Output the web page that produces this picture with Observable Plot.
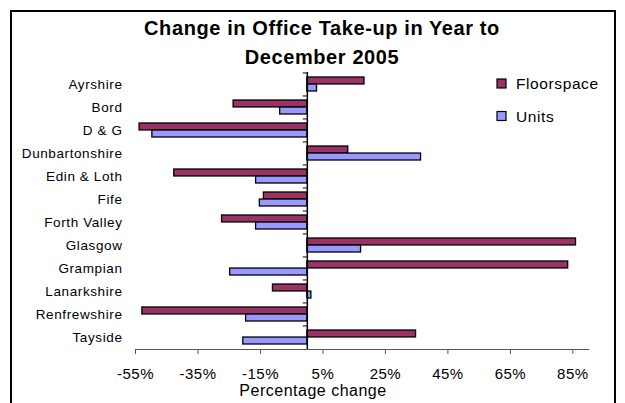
<!DOCTYPE html>
<html>
<head>
<meta charset="utf-8">
<script src="https://cdn.jsdelivr.net/npm/d3@7"></script>
<script src="https://cdn.jsdelivr.net/npm/@observablehq/plot@0.6"></script>
<style>
  html, body { margin: 0; padding: 0; background: #fff; overflow: hidden; }
  #wrap { position: relative; width: 625px; height: 403px; }
  #border { position: absolute; left: 10px; top: 10px; width: 602px; height: 400px; border: 2px solid #000; pointer-events: none; }
  svg { font-family: "Liberation Sans", Arial, sans-serif; }
</style>
</head>
<body>
<div id="wrap"><div id="border"></div></div>
<script>
const regions = ["Ayrshire","Bord","D & G","Dunbartonshire","Edin & Loth","Fife","Forth Valley","Glasgow","Grampian","Lanarkshire","Renfrewshire","Tayside"];
const floorspace = [18.3, -23.6, -53.7, 13.1, -42.6, -13.9, -27.3, 86.0, 83.5, -11.0, -52.8, 34.8];
const units = [3.1, -8.7, -49.6, 36.4, -16.4, -15.2, -16.4, 17.2, -24.7, 1.3, -19.6, -20.5];
const xTicks = [-55, -35, -15, 5, 25, 45, 65, 85];
const series = ["Floorspace", "Units"];
const colors = ["#993366", "#9999FF"];
const titleLines = ["Change in Office Take-up in Year to", "December 2005"];
const xLabel = "Percentage change";

const W = 625, H = 403, mT = 72, mB = 54, mL = 135, mR = 37;
const step = (H - mT - mB) / regions.length;
const pIn = 0.39;
const bw = step * (1 - pIn);

const fData = regions.map((r, i) => ({region: r, value: floorspace[i]}));
const uData = regions.map((r, i) => ({region: r, value: units[i]}));

const chart = Plot.plot({
  width: W, height: H,
  marginTop: mT, marginBottom: mB, marginLeft: mL, marginRight: mR,
  style: {fontFamily: '"Liberation Sans", Arial, sans-serif', background: "transparent", overflow: "visible"},
  x: {domain: [-55, 90]},
  y: {domain: regions, paddingInner: pIn, paddingOuter: pIn / 2},
  marks: [
    Plot.barX(fData, {x: "value", y: "region", insetBottom: bw / 2, fill: colors[0], stroke: "#000", strokeWidth: 1.3}),
    Plot.barX(uData, {x: "value", y: "region", insetTop: bw / 2, fill: colors[1], stroke: "#000", strokeWidth: 1.3}),
    Plot.ruleX([0], {stroke: "#000", strokeWidth: 1.5}),
    Plot.ruleY(regions, {y: d => d, x1: -1.3, x2: 0, dy: -step / 2, stroke: "#000", strokeWidth: 1}),
    Plot.frame({anchor: "bottom", stroke: "#555", strokeWidth: 1.2}),
    Plot.axisX({ticks: xTicks, tickFormat: d => d + "%", tickSize: 5, tickPadding: 14, fontSize: 15, label: null, stroke: "#555", color: "#000"}),
    Plot.axisY({tickSize: 0, tickPadding: 13, fontSize: 13.5, label: null, color: "#000"}),
    Plot.text([xLabel], {text: d => d, frameAnchor: "bottom", dx: -49, dy: 41, fontSize: 16, lineAnchor: "middle", fill: "#000"})
  ]
});

document.getElementById("wrap").appendChild(chart);
const svg = d3.select(chart);
svg.selectAll("g[aria-label='x-axis tick label']").style("letter-spacing", "0.5px");
svg.selectAll("g[aria-label='y-axis tick label']").style("letter-spacing", "0.6px");
svg.selectAll("g[aria-label='text']").style("letter-spacing", "0.5px");

// Title
svg.append("g").attr("text-anchor", "middle").selectAll("text").data(titleLines).join("text")
  .attr("x", 322).attr("y", (d, i) => [34.5, 63.5][i])
  .style("font-size", "20px").style("font-weight", "bold").style("letter-spacing", "0.6px")
  .attr("fill", "#000").text(d => d);

// Legend
const lg = svg.append("g").attr("text-anchor", "start");
const lgY = [79, 111.5];
series.forEach((s, i) => {
  lg.append("rect").attr("x", 497).attr("y", lgY[i]).attr("width", 9).attr("height", 9)
    .attr("fill", colors[i]).attr("stroke", "#000").attr("stroke-width", 1.2);
  lg.append("text").attr("x", 516).attr("y", lgY[i] + 10).attr("text-anchor", "start")
    .style("font-size", "15.5px").style("letter-spacing", "0.6px").attr("fill", "#000").text(s);
});
chart.style.position = "absolute";
chart.style.left = "0px";
chart.style.top = "0px";
</script>
</body>
</html>
